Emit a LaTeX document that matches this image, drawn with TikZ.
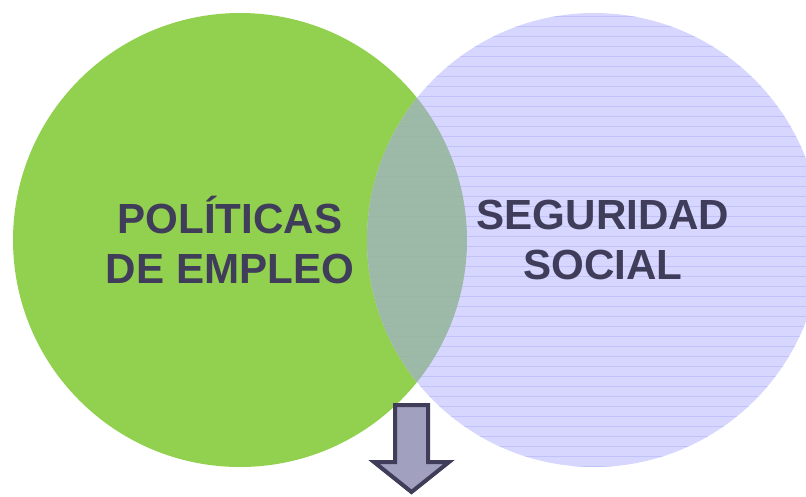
\documentclass[tikz,border=0pt]{standalone}
\usepackage{fontspec}
\setmainfont{Liberation Sans}
\usepackage{amsmath}

\definecolor{verde}{RGB}{146,208,80}
\definecolor{lila}{RGB}{214,214,255}
\definecolor{lilaraya}{RGB}{190,190,250}
\definecolor{cruce}{RGB}{148,180,152}
\definecolor{texto}{RGB}{63,61,90}
\definecolor{flecha}{RGB}{161,160,190}

\tikzset{
	rotulo/.style={font=\bfseries\fontsize{31.6}{36.8}\selectfont, text=texto, align=center, inner sep=0pt},
}

\begin{document}
\begin{tikzpicture}[x=0.75pt,y=-0.75pt]
	
	% 定义两个圆的参数
	\def\r{227} % 半径
	\coordinate (O1) at (240,240); % 左圆圆心
	\coordinate (O2) at (594,240); % 右圆圆心
	
	% 固定画面大小
	\useasboundingbox (0,0) rectangle (806,496);
	\clip (0,0) rectangle (806,496);
	
	% 左圆 (绿色)
	\fill[verde] (O1) circle (\r);
	
	% 右圆 (淡紫色)
	\fill[lila] (O2) circle (\r);
	
	% 右圆中的横线
	\begin{scope}
		\clip (O2) circle (\r);
		\foreach \y in {16,26,...,466}
			\draw[lilaraya, line width=0.45pt, opacity=0.8] (360,\y) -- (830,\y);
	\end{scope}
	
	% 两圆的交集 (半透明, 横线隐约可见)
	\begin{scope}
		\clip (O1) circle (\r);
		\fill[cruce, opacity=0.85] (O2) circle (\r);
	\end{scope}
	
	% 文字
	\node[rotulo] (politicas) at (230,240) {POLÍTICAS\\DE EMPLEO};
	\node[rotulo] (seguridad) at (603,240) {SEGURIDAD\\SOCIAL};
	
	% 向下的箭头
	\draw[texto, line width=3pt, fill=flecha, line join=miter]
		(395,405) -- (428,405) -- (428,462) -- (449,462) -- (411.5,492)
		-- (374,462) -- (395,462) -- cycle;
	
\end{tikzpicture}
\end{document}
